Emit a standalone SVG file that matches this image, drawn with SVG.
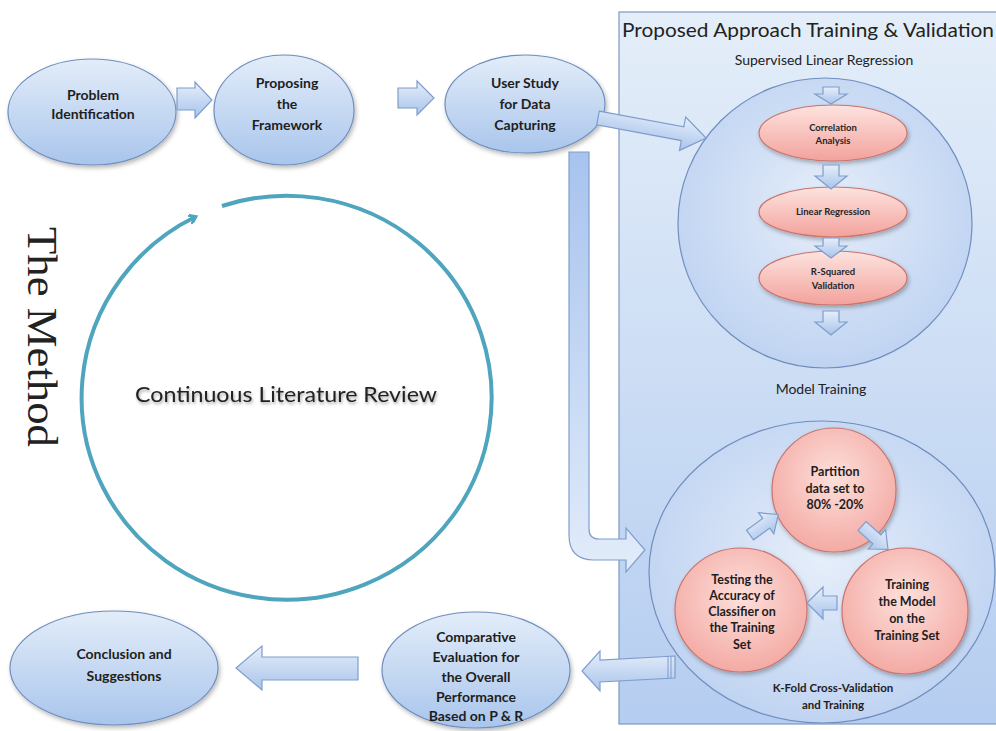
<svg xmlns="http://www.w3.org/2000/svg" width="996" height="731" viewBox="0 0 996 731">
<defs>
  <linearGradient id="gBlue" x1="0" y1="0" x2="0" y2="1">
    <stop offset="0" stop-color="#e3edf9"/>
    <stop offset="1" stop-color="#a9c5ec"/>
  </linearGradient>
  <linearGradient id="gPink" x1="0" y1="0" x2="0" y2="1">
    <stop offset="0" stop-color="#fde3df"/>
    <stop offset="1" stop-color="#f3a29c"/>
  </linearGradient>
  <radialGradient id="gPinkR" cx="0.5" cy="0.4" r="0.6">
    <stop offset="0" stop-color="#fde0dc"/>
    <stop offset="1" stop-color="#f4aaa4"/>
  </radialGradient>
  <linearGradient id="gPanel" x1="0" y1="0" x2="0" y2="1">
    <stop offset="0" stop-color="#e4eef9"/>
    <stop offset="1" stop-color="#b5cdf0"/>
  </linearGradient>
  <radialGradient id="gCirc" cx="0.5" cy="0.45" r="0.6">
    <stop offset="0" stop-color="#e6eefa"/>
    <stop offset="1" stop-color="#bcd1f1"/>
  </radialGradient>
  <linearGradient id="gArrow" x1="0" y1="0" x2="0" y2="1">
    <stop offset="0" stop-color="#e6eefa"/>
    <stop offset="1" stop-color="#a8c4eb"/>
  </linearGradient>
  <linearGradient id="gL" x1="0" y1="0" x2="0" y2="1">
    <stop offset="0" stop-color="#a7c3ee"/>
    <stop offset="1" stop-color="#e2ecfa"/>
  </linearGradient>
  <filter id="sh" x="-10%" y="-10%" width="130%" height="130%">
    <feDropShadow dx="1.5" dy="2.5" stdDeviation="2" flood-color="#000" flood-opacity="0.28"/>
  </filter>
  <filter id="tsh" x="-5%" y="-20%" width="110%" height="160%">
    <feDropShadow dx="1" dy="2" stdDeviation="1.5" flood-color="#000" flood-opacity="0.35"/>
  </filter>
  <marker id="cyc" markerWidth="10" markerHeight="10" refX="6" refY="5" orient="auto" markerUnits="userSpaceOnUse" viewBox="0 0 10 10">
    <path d="M0,0 L7,5 L0,10" fill="none" stroke="#4ea5bd" stroke-width="3" stroke-linejoin="miter"/>
  </marker>
  <style>
    .bn{fill:url(#gBlue);stroke:#6f8ebe;stroke-width:1.2;filter:url(#sh)}
    .pk{fill:url(#gPink);stroke:#c8746e;stroke-width:1.2;filter:url(#sh)}
    .pkc{fill:url(#gPinkR);stroke:#c8746e;stroke-width:1.2;filter:url(#sh)}
    .bc{fill:url(#gCirc);stroke:#6f8ebe;stroke-width:1.2}
    .ar{fill:url(#gArrow);stroke:#7f9dcc;stroke-width:1.2}
    .t{font-family:Lato,"Liberation Sans",sans-serif;font-weight:bold;fill:#1e1e1e;text-anchor:middle}
    .ts{font-family:Lato,"Liberation Sans",sans-serif;font-weight:bold;fill:#262626;text-anchor:middle;font-size:9.5px}
    .tr{font-family:Lato,"Liberation Sans",sans-serif;fill:#222;text-anchor:middle}
  </style>
</defs>
<rect width="996" height="731" fill="#ffffff"/>

<!-- panel -->
<g id="panel">
  <rect x="619" y="12" width="390" height="712" fill="url(#gPanel)" stroke="#7d98c2" stroke-width="1.2"/>
  <text class="tr" x="808" y="37" font-size="20" textLength="372" lengthAdjust="spacingAndGlyphs">Proposed  Approach Training  &amp; Validation</text>
  <text class="tr" x="824" y="65" font-size="14">Supervised Linear Regression</text>
  <text class="tr" x="821" y="394" font-size="14">Model Training</text>
</g>

<!-- left side -->
<text x="28" y="227" transform="rotate(90 28 227)" font-family="'Liberation Serif',serif" font-size="42" fill="#222" textLength="220" lengthAdjust="spacingAndGlyphs">The Method</text>

<g id="cycle">
  <path d="M222,206 A205,202 0 1 1 195,217" fill="none" stroke="#4ea5bd" stroke-width="4" marker-end="url(#cyc)"/>
  <text class="tr" x="286" y="402" font-size="21" font-weight="normal" filter="url(#tsh)" textLength="302" lengthAdjust="spacingAndGlyphs">Continuous Literature Review</text>
</g>

<!-- top row -->
<g id="n-problem">
  <ellipse class="bn" cx="92" cy="112" rx="84" ry="53"/>
  <text class="t" font-size="14"><tspan x="93" y="100">Problem</tspan><tspan x="93" y="119">Identification</tspan></text>
</g>
<g id="n-proposing">
  <ellipse class="bn" cx="284" cy="110" rx="70" ry="55"/>
  <text class="t" font-size="14"><tspan x="287" y="88">Proposing</tspan><tspan x="287" y="109">the</tspan><tspan x="287" y="130">Framework</tspan></text>
</g>
<g id="n-user">
  <ellipse class="bn" cx="525" cy="104" rx="80" ry="49"/>
  <text class="t" font-size="14"><tspan x="525" y="88">User Study</tspan><tspan x="525" y="109">for Data</tspan><tspan x="525" y="130">Capturing</tspan></text>
</g>

<!-- supervised circle -->
<g id="n-supervised">
  <ellipse class="bc" cx="825" cy="223" rx="147" ry="145"/>
</g>
<g id="n-correlation">
  <ellipse class="pk" cx="833" cy="133" rx="74" ry="28"/>
  <text class="ts"><tspan x="833" y="131">Correlation</tspan><tspan x="833" y="144">Analysis</tspan></text>
</g>
<g id="n-linear">
  <ellipse class="pk" cx="833" cy="212" rx="74" ry="25"/>
  <text class="ts" x="833" y="215">Linear Regression</text>
</g>
<g id="n-rsquared">
  <ellipse class="pk" cx="833" cy="278" rx="74" ry="27"/>
  <text class="ts"><tspan x="833" y="275">R-Squared</tspan><tspan x="833" y="289">Validation</tspan></text>
</g>

<!-- k-fold circle -->
<g id="n-kfold">
  <ellipse class="bc" cx="822" cy="572" rx="173" ry="151"/>
  <text class="t" font-size="11.5"><tspan x="833" y="692">K-Fold Cross-Validation</tspan><tspan x="833" y="709">and Training</tspan></text>
</g>
<g id="n-partition">
  <circle class="pkc" cx="834" cy="490" r="62"/>
  <text class="t" font-size="12.5"><tspan x="835" y="476">Partition</tspan><tspan x="835" y="493">data set to</tspan><tspan x="835" y="509">80% -20%</tspan></text>
</g>
<g id="n-testing">
  <ellipse class="pkc" cx="741" cy="610" rx="66" ry="62"/>
  <text class="t" font-size="12.5"><tspan x="742" y="584">Testing  the</tspan><tspan x="742" y="600">Accuracy of</tspan><tspan x="742" y="616">Classifier on</tspan><tspan x="742" y="632">the Training</tspan><tspan x="742" y="649">Set</tspan></text>
</g>
<g id="n-training">
  <circle class="pkc" cx="905" cy="611" r="63"/>
  <text class="t" font-size="12.5"><tspan x="907" y="589">Training</tspan><tspan x="907" y="606">the Model</tspan><tspan x="907" y="623">on the</tspan><tspan x="907" y="640">Training Set</tspan></text>
</g>

<!-- bottom row -->
<g id="n-comparative">
  <ellipse class="bn" cx="476" cy="670" rx="94" ry="58"/>
  <text class="t" font-size="14"><tspan x="476" y="642">Comparative</tspan><tspan x="476" y="662">Evaluation for</tspan><tspan x="476" y="682">the Overall</tspan><tspan x="476" y="702">Performance</tspan><tspan x="476" y="721">Based on P &amp; R</tspan></text>
</g>
<g id="n-conclusion">
  <ellipse class="bn" cx="114" cy="668" rx="104" ry="57"/>
  <text class="t" font-size="14"><tspan x="124" y="659">Conclusion  and</tspan><tspan x="124" y="681">Suggestions</tspan></text>
</g>

<!-- connectors -->
<g id="connectors">
  <path class="ar" d="M177,88 H195 V82 L212,100 L195,118 V110 H177 Z"/>
  <path class="ar" d="M398,88 H417 V81 L434,98 L417,115 V108 H398 Z"/>
  <path class="ar" transform="translate(598,118) rotate(10.5)" d="M0,-7 H86 V-17 L110,0 L86,17 V7 H0 Z"/>
  <path d="M569,152 H589 V529 Q589,539 599,539 H626 V528 L645,550 L626,572 V560 H594 Q569,560 569,535 Z" fill="url(#gL)" stroke="#7f9dcc" stroke-width="1.2"/>
  <path class="ar" d="M823,87 H839 V94 H847 L831,104 L815,94 H823 Z"/>
  <path class="ar" d="M823,165 H839 V176 H847 L831,189 L815,176 H823 Z"/>
  <path class="ar" d="M823,238 H839 V246 H847 L831,258 L815,246 H823 Z"/>
  <path class="ar" d="M823,311 H839 V322 H847 L831,335 L815,322 H823 Z"/>
  <path class="ar" transform="translate(750,535) rotate(-36)" d="M0,-6 H20 V-13 L35,0 L20,13 V6 H0 Z"/>
  <path class="ar" transform="translate(862,526) rotate(42)" d="M0,-6 H20 V-13 L35,0 L20,13 V6 H0 Z"/>
  <path class="ar" d="M837,596 H823 V587 L807,603 L823,619 V610 H837 Z"/>
  <path class="ar" d="M675,656 L600,660 V651 L582,671 L600,691 V682 L675,678 Z"/>
  <path d="M668,656.5 V678.5 M671,656.3 V678.3" stroke="#7f9dcc" stroke-width="1"/>
  <path class="ar" d="M358,657 H262 V646 L236,668 L262,690 V680 H358 Z"/>
</g>
</svg>
